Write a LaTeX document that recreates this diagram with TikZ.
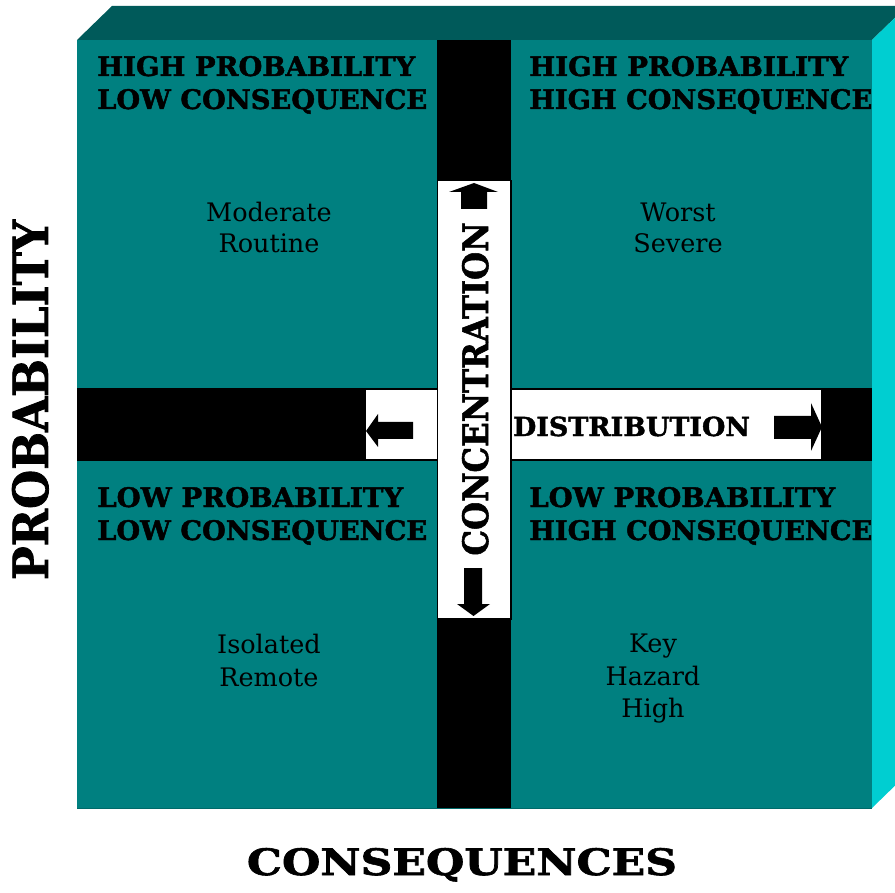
\documentclass[tikz,border=0pt]{standalone}
\usepackage{fontspec}
\setmainfont{DejaVu Serif}
\newfontfamily\heavyfont[BoldFeatures={FakeBold=1.6}]{DejaVu Serif}
\definecolor{frontc}{HTML}{008080}
\definecolor{topc}{HTML}{005A5A}
\definecolor{sidec}{HTML}{00CED1}
\definecolor{edgec}{HTML}{006A6A}
\newcommand{\fitbold}[3]{\resizebox{#1pt}{#2pt}{\heavyfont\bfseries #3}}
\begin{document}
\begin{tikzpicture}[x=1pt,y=-1pt,
  title/.style={anchor=base west,inner sep=0pt},
  body/.style={anchor=base,inner sep=0pt,font=\fontsize{25.5}{32}\selectfont},
  whitepanel/.style={fill=white,draw=black,line width=1.2pt},
  blockarrow/.style={fill=black}]
\useasboundingbox (0,0) rectangle (895,893);
\clip (0,0) rectangle (895,893);
% box faces
\fill[topc] (77,40) -- (112,6) -- (907,6) -- (872,40) -- cycle;
\fill[sidec] (872,40) -- (907,6) -- (907,774) -- (872,808) -- cycle;
\fill[frontc] (77,40) rectangle (872,808);
\draw[edgec,line width=1pt] (77,808) -- (872,808);
% black bars
\fill[black] (77,388) rectangle (872,461);
\fill[black] (437,40) rectangle (511,808);
% white panels
\draw[whitepanel] (365,389.5) rectangle (437.5,460);
\draw[whitepanel] (511,389.5) rectangle (822,460);
\draw[whitepanel] (437.5,180.5) rectangle (511,619);
% block arrows
\fill[blockarrow] (474,183) -- (498,192) -- (487,192) -- (487,209) -- (461,209) -- (461,192) -- (449,192) -- cycle;
\fill[blockarrow] (473.5,616) -- (490,604) -- (482,604) -- (482,568) -- (464,568) -- (464,604) -- (457,604) -- cycle;
\fill[blockarrow] (366,431) -- (378,414) -- (378,422) -- (413,422) -- (413,439) -- (378,439) -- (378,447) -- cycle;
\fill[blockarrow] (822,427) -- (811,403) -- (811,416) -- (774,416) -- (774,439) -- (811,439) -- (811,451) -- cycle;
% quadrant titles
\node[title] (tla) at (97,76) {\fitbold{318}{20}{HIGH PROBABILITY}};
\node[title] (tlb) at (97,109) {\fitbold{330}{20}{LOW CONSEQUENCE}};
\node[title] (tra) at (529,76) {\fitbold{319}{20}{HIGH PROBABILITY}};
\node[title] (trb) at (529,109) {\fitbold{343}{20}{HIGH CONSEQUENCE}};
\node[title] (bla) at (97,507) {\fitbold{306}{20}{LOW PROBABILITY}};
\node[title] (blb) at (97,540) {\fitbold{330}{20}{LOW CONSEQUENCE}};
\node[title] (bra) at (529,507) {\fitbold{306}{20}{LOW PROBABILITY}};
\node[title] (brb) at (529,540) {\fitbold{343}{20}{HIGH CONSEQUENCE}};
% quadrant bodies
\node[body] (tl1) at (269,222) {Moderate};
\node[body] (tl2) at (269,253) {Routine};
\node[body] (tr1) at (678,222) {Worst};
\node[body] (tr2) at (678,253) {Severe};
\node[body] (bl1) at (269,653) {Isolated};
\node[body] (bl2) at (269,686) {Remote};
\node[body] (br1) at (653,652) {Key};
\node[body] (br2) at (653,685) {Hazard};
\node[body] (br3) at (653,717) {High};
% bar labels
\node[anchor=base,inner sep=0pt,rotate=90] (conc) at (488,389) {\fitbold{333}{26}{CONCENTRATION}};
\node[anchor=base,inner sep=0pt] (dist) at (631.5,436) {\fitbold{237}{19.5}{DISTRIBUTION}};
% axis labels
\node[anchor=base,inner sep=0pt,rotate=90] (prob) at (48,400) {\fitbold{360}{36}{PROBABILITY}};
\node[anchor=base,inner sep=0pt] (cons) at (462,875) {\fitbold{430}{27}{CONSEQUENCES}};
\end{tikzpicture}
\end{document}
